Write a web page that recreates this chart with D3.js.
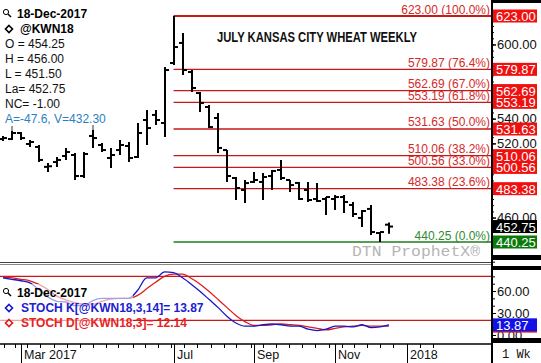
<!DOCTYPE html>
<html>
<head>
<meta charset="utf-8">
<script src="https://d3js.org/d3.v7.min.js"></script>
<style>
body { margin: 0; background: #fff; }
svg { display: block; font-family: "Liberation Sans", Arial, sans-serif; }
</style>
</head>
<body>
<script>
var w = 541,
    h = 363;

// weekly bars, July KC wheat (@KWN18)
var weeks = ["2017-02-20", "2017-02-27", "2017-03-06", "2017-03-13", "2017-03-20", "2017-03-27",
             "2017-04-03", "2017-04-10", "2017-04-17", "2017-04-24", "2017-05-01", "2017-05-08",
             "2017-05-15", "2017-05-22", "2017-05-29", "2017-06-05", "2017-06-12", "2017-06-19",
             "2017-06-26", "2017-07-03", "2017-07-10", "2017-07-17", "2017-07-24", "2017-07-31",
             "2017-08-07", "2017-08-14", "2017-08-21", "2017-08-28", "2017-09-04", "2017-09-11",
             "2017-09-18", "2017-09-25", "2017-10-02", "2017-10-09", "2017-10-16", "2017-10-23",
             "2017-10-30", "2017-11-06", "2017-11-13", "2017-11-20", "2017-11-27", "2017-12-04",
             "2017-12-11", "2017-12-18"];
var open  = [523.5, 523.5, 528.4, 519.5, 517.1, 501.0, 504.9, 509.8, 510.6, 493.6, 526.0, 518.7,
             508.2, 514.6, 517.9, 509.0, 538.9, 543.0, 536.5, 585.0, 601.2, 577.7, 560.7, 549.4,
             540.5, 514.6, 492.0, 482.3, 488.8, 488.8, 493.6, 498.5, 490.4, 488.0, 482.3, 475.0,
             475.0, 475.0, 476.6, 470.2, 459.7, 467.0, 447.5, 454.25];
var high  = [526.0, 530.0, 529.2, 522.7, 518.7, 504.1, 509.0, 516.3, 512.2, 513.0, 530.8, 520.3,
             516.3, 522.7, 521.1, 536.5, 547.0, 547.0, 581.8, 623.0, 609.3, 579.3, 561.5, 551.0,
             544.6, 514.6, 492.8, 490.4, 496.9, 496.0, 498.5, 506.6, 490.4, 488.8, 488.8, 488.0,
             476.6, 478.3, 478.3, 472.6, 466.1, 470.2, 448.3, 456.0];
var low   = [521.9, 522.7, 522.7, 517.1, 504.9, 496.9, 500.9, 506.6, 490.4, 492.0, 516.3, 513.0,
             500.1, 510.6, 504.9, 508.2, 518.7, 534.9, 525.2, 583.4, 575.3, 561.5, 545.4, 532.4,
             512.2, 488.8, 474.2, 471.8, 488.0, 474.2, 482.3, 490.4, 480.7, 474.2, 472.6, 472.6,
             462.1, 466.1, 463.7, 460.5, 452.4, 445.9, 440.25, 447.0];
var close = [524.3, 528.4, 524.3, 521.1, 506.6, 501.5, 506.6, 513.0, 493.6, 511.4, 524.3, 514.6,
             510.6, 518.7, 508.2, 528.4, 532.4, 538.9, 579.3, 597.9, 579.3, 564.8, 552.7, 533.2,
             516.3, 493.6, 483.9, 487.9, 490.4, 492.8, 497.7, 492.0, 486.3, 475.0, 474.2, 473.4,
             476.6, 476.6, 472.6, 462.9, 465.3, 448.3, 448.3, 452.75];

// stochastics
var stochK = [78, 76, 74, 71, 62, 52, 46, 45, 40, 40, 47, 50, 50, 50, 50, 61, 78, 78, 86, 85, 78, 69,
              59, 48, 37, 25, 16, 12, 12, 14, 15, 14, 12, 12, 8, 6, 8, 12, 12, 11, 14, 10, 11, 13.87];
var stochD = [79, 78, 76, 74, 69, 62, 53, 48, 44, 42, 42, 46, 49, 50, 50, 54, 63, 72, 80, 83, 83, 77,
              69, 59, 48, 37, 26, 18, 13, 13, 14, 15, 14, 13, 11, 9, 7, 9, 11, 12, 13, 12, 12, 12.14];

// retracement levels
var fibLevels = [623.00, 579.87, 562.69, 553.19, 531.63, 510.06, 500.56, 483.38, 440.25];
var fibPct = ["100.0%", "76.4%", "67.0%", "61.8%", "50.0%", "38.2%", "33.0%", "23.6%", "0.0%"];
var fibStart = "2017-07-03";

var priceTicks = [460, 480, 500, 520, 540, 560, 580, 600, 620];
var priceLabels = [460, 520, 540, 600];
var stochTicks = [0, 30, 60];
var monthTicks = ["2017-03-06", "2017-07-03", "2017-09-04", "2017-11-06", "2018-01-01"];
var monthLabels = ["Mar 2017", "Jul", "Sep", "Nov", "2018"];
var markIdx = [1, 10];

var legendRows = ["O = 454.25", "H = 456.00", "L = 451.50", "La= 452.75", "NC= -1.00"];

var parse = d3.timeParse("%Y-%m-%d");
var bars = weeks.map(function(d, i) {
  return { date: parse(d), o: open[i], h: high[i], l: low[i], c: close[i], k: stochK[i], d: stochD[i] };
});

var x = d3.scaleTime().domain([parse(weeks[0]), parse(weeks[weeks.length - 1])]).range([3, 389]);
var y = d3.scaleLinear().domain([440.25, 623]).range([242, 16]);
var ys = d3.scaleLinear().domain([0, 100]).range([335, 261.7]);

var svg = d3.select("body").append("svg")
            .attr("width", w)
            .attr("height", h);

var red = "#c81818", green = "#1e7d1e";

// --- fib lines ---
svg.selectAll("line.fib")
  .data(fibLevels)
  .enter().append("line")
  .attr("x1", x(parse(fibStart)))
  .attr("x2", 491)
  .attr("y1", function(d) { return y(d); })
  .attr("y2", function(d) { return y(d); })
  .attr("stroke", function(d, i) { return i == fibLevels.length - 1 ? green : red; })
  .attr("stroke-width", function(d, i) { return i == 0 ? 2 : 1.4; });

svg.selectAll("text.fib")
  .data(fibLevels)
  .enter().append("text")
  .attr("x", 490)
  .attr("y", function(d) { return y(d) - 2.5; })
  .attr("text-anchor", "end")
  .attr("font-size", "12px")
  .attr("fill", function(d, i) { return i == fibLevels.length - 1 ? "#2f8a2f" : "#d42a2a"; })
  .text(function(d, i) { return d.toFixed(2) + " (" + fibPct[i] + ")"; });

// --- watermark ---
svg.append("text")
  .attr("x", 352).attr("y", 256)
  .attr("font-family", "'Liberation Mono', 'Courier New', monospace")
  .attr("font-size", "15px")
  .attr("fill", "#b4b4b4")
  .attr("textLength", 128)
  .attr("lengthAdjust", "spacingAndGlyphs")
  .text("DTN ProphetX\u00ae");

// --- OHLC bars ---
var g = svg.append("g").attr("stroke", "#000").attr("stroke-width", 2);
g.selectAll("line.hl")
  .data(bars).enter().append("line")
  .attr("x1", function(d) { return Math.round(x(d.date)); })
  .attr("x2", function(d) { return Math.round(x(d.date)); })
  .attr("y1", function(d) { return y(d.h); })
  .attr("y2", function(d) { return y(d.l); });
g.selectAll("line.op")
  .data(bars).enter().append("line")
  .attr("x1", function(d) { return Math.round(x(d.date)) - 4; })
  .attr("x2", function(d) { return Math.round(x(d.date)); })
  .attr("y1", function(d) { return y(d.o); })
  .attr("y2", function(d) { return y(d.o); });
g.selectAll("line.cl")
  .data(bars).enter().append("line")
  .attr("x1", function(d) { return Math.round(x(d.date)); })
  .attr("x2", function(d) { return Math.round(x(d.date)) + 4; })
  .attr("y1", function(d) { return y(d.c); })
  .attr("y2", function(d) { return y(d.c); });

svg.selectAll("line.mark")
  .data(markIdx).enter().append("line")
  .attr("x1", function(i) { return Math.round(x(bars[i].date)); })
  .attr("x2", function(i) { return Math.round(x(bars[i].date)); })
  .attr("y1", function(i) { return y(bars[i].h) - 5; })
  .attr("y2", function(i) { return y(bars[i].h); })
  .attr("stroke", "#9a9a9a")
  .attr("stroke-width", 2);

// --- title ---
svg.append("text")
  .attr("x", 217).attr("y", 42)
  .attr("font-size", "14px")
  .attr("font-weight", "bold")
  .attr("fill", "#111")
  .attr("textLength", 200)
  .attr("lengthAdjust", "spacingAndGlyphs")
  .text("JULY KANSAS CITY WHEAT WEEKLY");

// --- top-left legend ---
function magnifier(cx, cy) {
  svg.append("circle").attr("cx", cx).attr("cy", cy).attr("r", 2.6)
     .attr("fill", "none").attr("stroke", "#000").attr("stroke-width", 1);
  svg.append("line").attr("x1", cx + 2).attr("y1", cy + 2).attr("x2", cx + 5).attr("y2", cy + 5)
     .attr("stroke", "#000").attr("stroke-width", 1.5);
}
function diamond(cx, cy, col) {
  svg.append("path")
     .attr("d", "M" + cx + "," + (cy - 3.5) + "L" + (cx + 3.5) + "," + cy + "L" + cx + "," + (cy + 3.5) + "L" + (cx - 3.5) + "," + cy + "Z")
     .attr("fill", "none").attr("stroke", col).attr("stroke-width", 1.6);
}

magnifier(6, 12);
svg.append("text").attr("x", 17).attr("y", 18).attr("font-size", "12px").attr("font-weight", "bold").text("18-Dec-2017");
diamond(9, 29, "#000");
svg.append("text").attr("x", 20).attr("y", 33).attr("font-size", "12px").attr("font-weight", "bold").text("@KWN18");
svg.selectAll("text.leg")
  .data(legendRows).enter().append("text")
  .attr("x", 5)
  .attr("y", function(d, i) { return 48 + i * 15; })
  .attr("font-size", "12px")
  .attr("fill", "#111")
  .text(function(d) { return d; });
svg.append("text").attr("x", 5).attr("y", 123).attr("font-size", "12px").attr("fill", "#2a7fc4")
  .text("A=-47.6, V=432.30");

// --- right price axis ---
svg.append("g")
  .attr("transform", "translate(492,0)")
  .call(d3.axisRight(y).tickValues(d3.range(445, 623, 5)).tickSize(2).tickFormat(""))
  .call(function(a) { a.select(".domain").remove(); });
svg.append("g")
  .attr("transform", "translate(492,0)")
  .call(d3.axisRight(y).tickValues(priceTicks).tickSize(4).tickFormat(""))
  .call(function(a) { a.select(".domain").remove(); });
var pAxis = svg.append("g")
  .attr("transform", "translate(492,0)")
  .call(d3.axisRight(y).tickValues(priceLabels).tickSize(4).tickFormat(d3.format(".2f")));
pAxis.select(".domain").remove();
pAxis.selectAll("text").attr("x", 5).attr("font-size", "13px").attr("font-family", "'Liberation Sans', Arial, sans-serif").attr("fill", "#111");

function valueBox(val, fill, scale) {
  svg.append("rect").attr("x", 493).attr("y", scale(val) - 6.5).attr("width", 44).attr("height", 13).attr("fill", fill);
  svg.append("text").attr("x", 496).attr("y", scale(val) + 5).attr("font-size", "13px").attr("fill", "#fff")
     .text(val.toFixed(2));
}
fibLevels.forEach(function(d, i) {
  valueBox(d, i == fibLevels.length - 1 ? "#0b7a0b" : "#f01010", y);
});
valueBox(close[close.length - 1], "#000", y);

// --- lower panel: stochastics ---
svg.selectAll("line.stl")
  .data([80, 20]).enter().append("line")
  .attr("x1", 0).attr("x2", 491)
  .attr("y1", function(d) { return ys(d); })
  .attr("y2", function(d) { return ys(d); })
  .attr("stroke", red).attr("stroke-width", 1.4);

var lineD = d3.line().x(function(d) { return x(d.date); }).y(function(d) { return ys(d.d); }).curve(d3.curveMonotoneX);
var lineK = d3.line().x(function(d) { return x(d.date); }).y(function(d) { return ys(d.k); }).curve(d3.curveMonotoneX);
svg.append("path").datum(bars).attr("d", lineD).attr("fill", "none").attr("stroke", "#e01b1b").attr("stroke-width", 1.3);
svg.append("path").datum(bars).attr("d", lineK).attr("fill", "none").attr("stroke", "#1616c8").attr("stroke-width", 1.3);

svg.append("rect").attr("x", 0).attr("y", 284).attr("width", 133).attr("height", 46)
  .attr("fill", "#fff").attr("opacity", 0.6);
magnifier(6, 291);
svg.append("text").attr("x", 17).attr("y", 297).attr("font-size", "12px").attr("font-weight", "bold").text("18-Dec-2017");
diamond(9, 308, "#1616c8");
svg.append("text").attr("x", 21).attr("y", 312).attr("font-size", "12px").attr("font-weight", "bold").attr("fill", "#2020d0")
  .text("STOCH K[@KWN18,3,14]= " + stochK[stochK.length - 1].toFixed(2));
diamond(9, 323, "#e01b1b");
svg.append("text").attr("x", 21).attr("y", 327).attr("font-size", "12px").attr("font-weight", "bold").attr("fill", "#e8231f")
  .text("STOCH D[@KWN18,3]= " + stochD[stochD.length - 1].toFixed(2));

svg.append("g")
  .attr("transform", "translate(492,0)")
  .call(d3.axisRight(ys).tickValues(d3.range(0, 101, 10)).tickSize(3).tickFormat(""))
  .call(function(a) { a.select(".domain").remove(); });
var sAxis = svg.append("g")
  .attr("transform", "translate(492,0)")
  .call(d3.axisRight(ys).tickValues(stochTicks).tickSize(4).tickFormat(d3.format(".2f")));
sAxis.select(".domain").remove();
sAxis.selectAll("text").attr("x", 5).attr("font-size", "13px").attr("font-family", "'Liberation Sans', Arial, sans-serif").attr("fill", "#111");

valueBox(stochD[stochD.length - 1], "#e01b1b", ys);
valueBox(stochK[stochK.length - 1], "#1212e6", ys);

// --- frame pieces ---
svg.append("line").attr("x1", 0).attr("x2", 492).attr("y1", 262.5).attr("y2", 262.5).attr("stroke", "#444").attr("stroke-width", 1);
svg.append("line").attr("x1", 0).attr("x2", 492).attr("y1", 264.5).attr("y2", 264.5).attr("stroke", "#888").attr("stroke-width", 1);
[[0, 3], [255, 5], [266, 4], [338, 5]].forEach(function(r) {
  svg.append("rect").attr("x", 492).attr("y", r[0]).attr("width", 49).attr("height", r[1]).attr("fill", "#000");
});
svg.append("line").attr("x1", 492).attr("x2", 492).attr("y1", 0).attr("y2", h).attr("stroke", "#000").attr("stroke-width", 2);

// --- bottom date axis ---
svg.append("line").attr("x1", 0).attr("x2", 492).attr("y1", 344).attr("y2", 344).attr("stroke", "#000").attr("stroke-width", 1.5);
var minor = d3.timeDay.range(parse("2017-02-11"), parse("2018-01-31")).filter(function(d) {
  return d.getDate() == 1 || d.getDate() == 11 || d.getDate() == 21;
});
svg.selectAll("line.minor")
  .data(minor).enter().append("line")
  .attr("x1", function(d) { return Math.round(x(d)) + 0.5; })
  .attr("x2", function(d) { return Math.round(x(d)) + 0.5; })
  .attr("y1", 344).attr("y2", 348)
  .attr("stroke", "#000");
svg.selectAll("line.major")
  .data(monthTicks).enter().append("line")
  .attr("x1", function(d) { return Math.round(x(parse(d))) + 0.5; })
  .attr("x2", function(d) { return Math.round(x(parse(d))) + 0.5; })
  .attr("y1", 344).attr("y2", h)
  .attr("stroke", "#000");
svg.selectAll("text.month")
  .data(monthTicks).enter().append("text")
  .attr("x", function(d) { return Math.round(x(parse(d))) + 3; })
  .attr("y", 359)
  .attr("font-size", "12.5px")
  .attr("fill", "#111")
  .text(function(d, i) { return monthLabels[i]; });
svg.append("text").attr("x", 502).attr("y", 358)
  .attr("font-family", "'Liberation Mono', 'Courier New', monospace")
  .attr("font-size", "12px").attr("fill", "#111")
  .text("1 Wk");
</script>
</body>
</html>
